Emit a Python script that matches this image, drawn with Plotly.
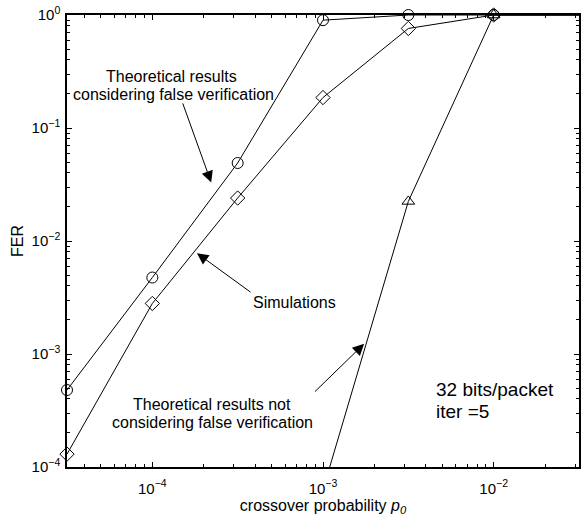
import plotly.graph_objects as go

# crossover probability (half-decade steps)
p0 = [3.1623e-5, 1e-4, 3.1623e-4, 1e-3, 3.1623e-3, 1e-2, 3.1623e-2]
fer_theory_fv = [4.8e-4, 4.75e-3, 0.049, 0.90, 1.0, 1.0, 1.0]
fer_sim = [1.3e-4, 2.8e-3, 0.024, 0.186, 0.76, 1.0, 1.0]
p0_tri = [1e-3, 3.1623e-3, 1e-2, 3.1623e-2]
fer_theory_nofv = [6.3e-5, 0.0224, 1.0, 1.0]

x_major = [1e-4, 1e-3, 1e-2]
x_major_text = ["10<sup>−4</sup>", "10<sup>−3</sup>", "10<sup>−2</sup>"]
y_major = [1e-4, 1e-3, 1e-2, 1e-1, 1]
y_major_text = ["10<sup>−4</sup>", "10<sup>−3</sup>", "10<sup>−2</sup>", "10<sup>−1</sup>", "10<sup>0</sup>"]

x_minor = [m * 10 ** e for e in (-5, -4, -3, -2) for m in range(2, 10)]
y_minor = [m * 10 ** e for e in (-4, -3, -2, -1) for m in range(2, 10)]

FONT = "Liberation Sans, Arial, sans-serif"
BLK = "black"

fig = go.Figure()
fig.add_trace(go.Scatter(x=p0, y=fer_theory_fv, mode="lines+markers",
                         line=dict(color=BLK, width=1),
                         marker=dict(symbol="circle-open", size=11, color=BLK, line=dict(width=1)),
                         cliponaxis=False, showlegend=False))
fig.add_trace(go.Scatter(x=p0, y=fer_sim, mode="lines+markers",
                         line=dict(color=BLK, width=1),
                         marker=dict(symbol="diamond-open", size=11, color=BLK, line=dict(width=1)),
                         cliponaxis=False, showlegend=False))
fig.add_trace(go.Scatter(x=p0_tri, y=fer_theory_nofv, mode="lines",
                         line=dict(color=BLK, width=1), showlegend=False))
fig.add_trace(go.Scatter(x=p0_tri[1:], y=fer_theory_nofv[1:], mode="markers",
                         marker=dict(symbol="triangle-up-open", size=11, color=BLK, line=dict(width=1)),
                         cliponaxis=False, showlegend=False))

axis_common = dict(showline=True, linecolor=BLK, linewidth=1.5, mirror="ticks",
                   ticks="inside", ticklen=5, tickwidth=1, tickcolor=BLK,
                   showgrid=False, zeroline=False, automargin=False,
                   tickfont=dict(family=FONT, size=15, color=BLK))

fig.update_xaxes(type="log", range=[-4.5, -1.5], tickmode="array",
                 tickvals=x_major, ticktext=x_major_text, ticklabelstandoff=7,
                 minor=dict(tickmode="array", tickvals=x_minor, ticks="inside", ticklen=3,
                            tickcolor=BLK, tickwidth=1, showgrid=False),
                 title=dict(text="crossover probability <i>p</i><sub><i>0</i></sub>",
                            font=dict(family=FONT, size=16, color=BLK), standoff=4),
                 **axis_common)
fig.update_yaxes(type="log", range=[-4, 0], tickmode="array",
                 tickvals=y_major, ticktext=y_major_text, ticklabelstandoff=2,
                 minor=dict(tickmode="array", tickvals=y_minor, ticks="inside", ticklen=3,
                            tickcolor=BLK, tickwidth=1, showgrid=False),
                 title=dict(text="FER", font=dict(family=FONT, size=16, color=BLK), standoff=4),
                 **axis_common)

W0, W = 66.7, 512.3
H0, H = 467.3, 452.3

def px2paper(px, py):
    return (px - W0) / W, (H0 - py) / H

annotations = []
# text labels (one annotation per line for tight line spacing)
for txt, (px, py), anchor, size in [
    ("Theoretical results", (171, 77), "center", 16),
    ("considering false verification", (173, 95), "center", 16),
    ("Simulations", (294.5, 303), "center", 16),
    ("Theoretical results not", (211.5, 405), "center", 16),
    ("considering false verification", (212, 423), "center", 16),
    ("32 bits/packet", (434, 390), "left", 19),
    ("iter =5", (434, 412), "left", 19),
]:
    x, y = px2paper(px, py)
    annotations.append(dict(x=x, y=y, xref="paper", yref="paper", text=txt, showarrow=False,
                            xanchor=anchor, yanchor="middle", align=anchor,
                            font=dict(family=FONT, size=size, color=BLK)))
# arrows
for (tx, ty), (ax, ay) in [((211, 182.7), (-29, -80.7)),
                           ((196.7, 253.3), (55, 40)),
                           ((364, 344), (-50.7, 49.3))]:
    x, y = px2paper(tx, ty)
    annotations.append(dict(x=x, y=y, xref="paper", yref="paper", ax=ax, ay=ay,
                            text="", showarrow=True, arrowhead=2, arrowsize=2.3,
                            arrowwidth=1, arrowcolor=BLK))

fig.update_layout(width=583, height=522, margin=dict(l=67, r=4, t=15, b=55),
                  plot_bgcolor="white", paper_bgcolor="white",
                  font=dict(family=FONT, color=BLK), annotations=annotations)

fig.write_html("out.html", config={"displayModeBar": False},
               post_script="document.body.style.margin='0';document.body.style.overflow='hidden';")
